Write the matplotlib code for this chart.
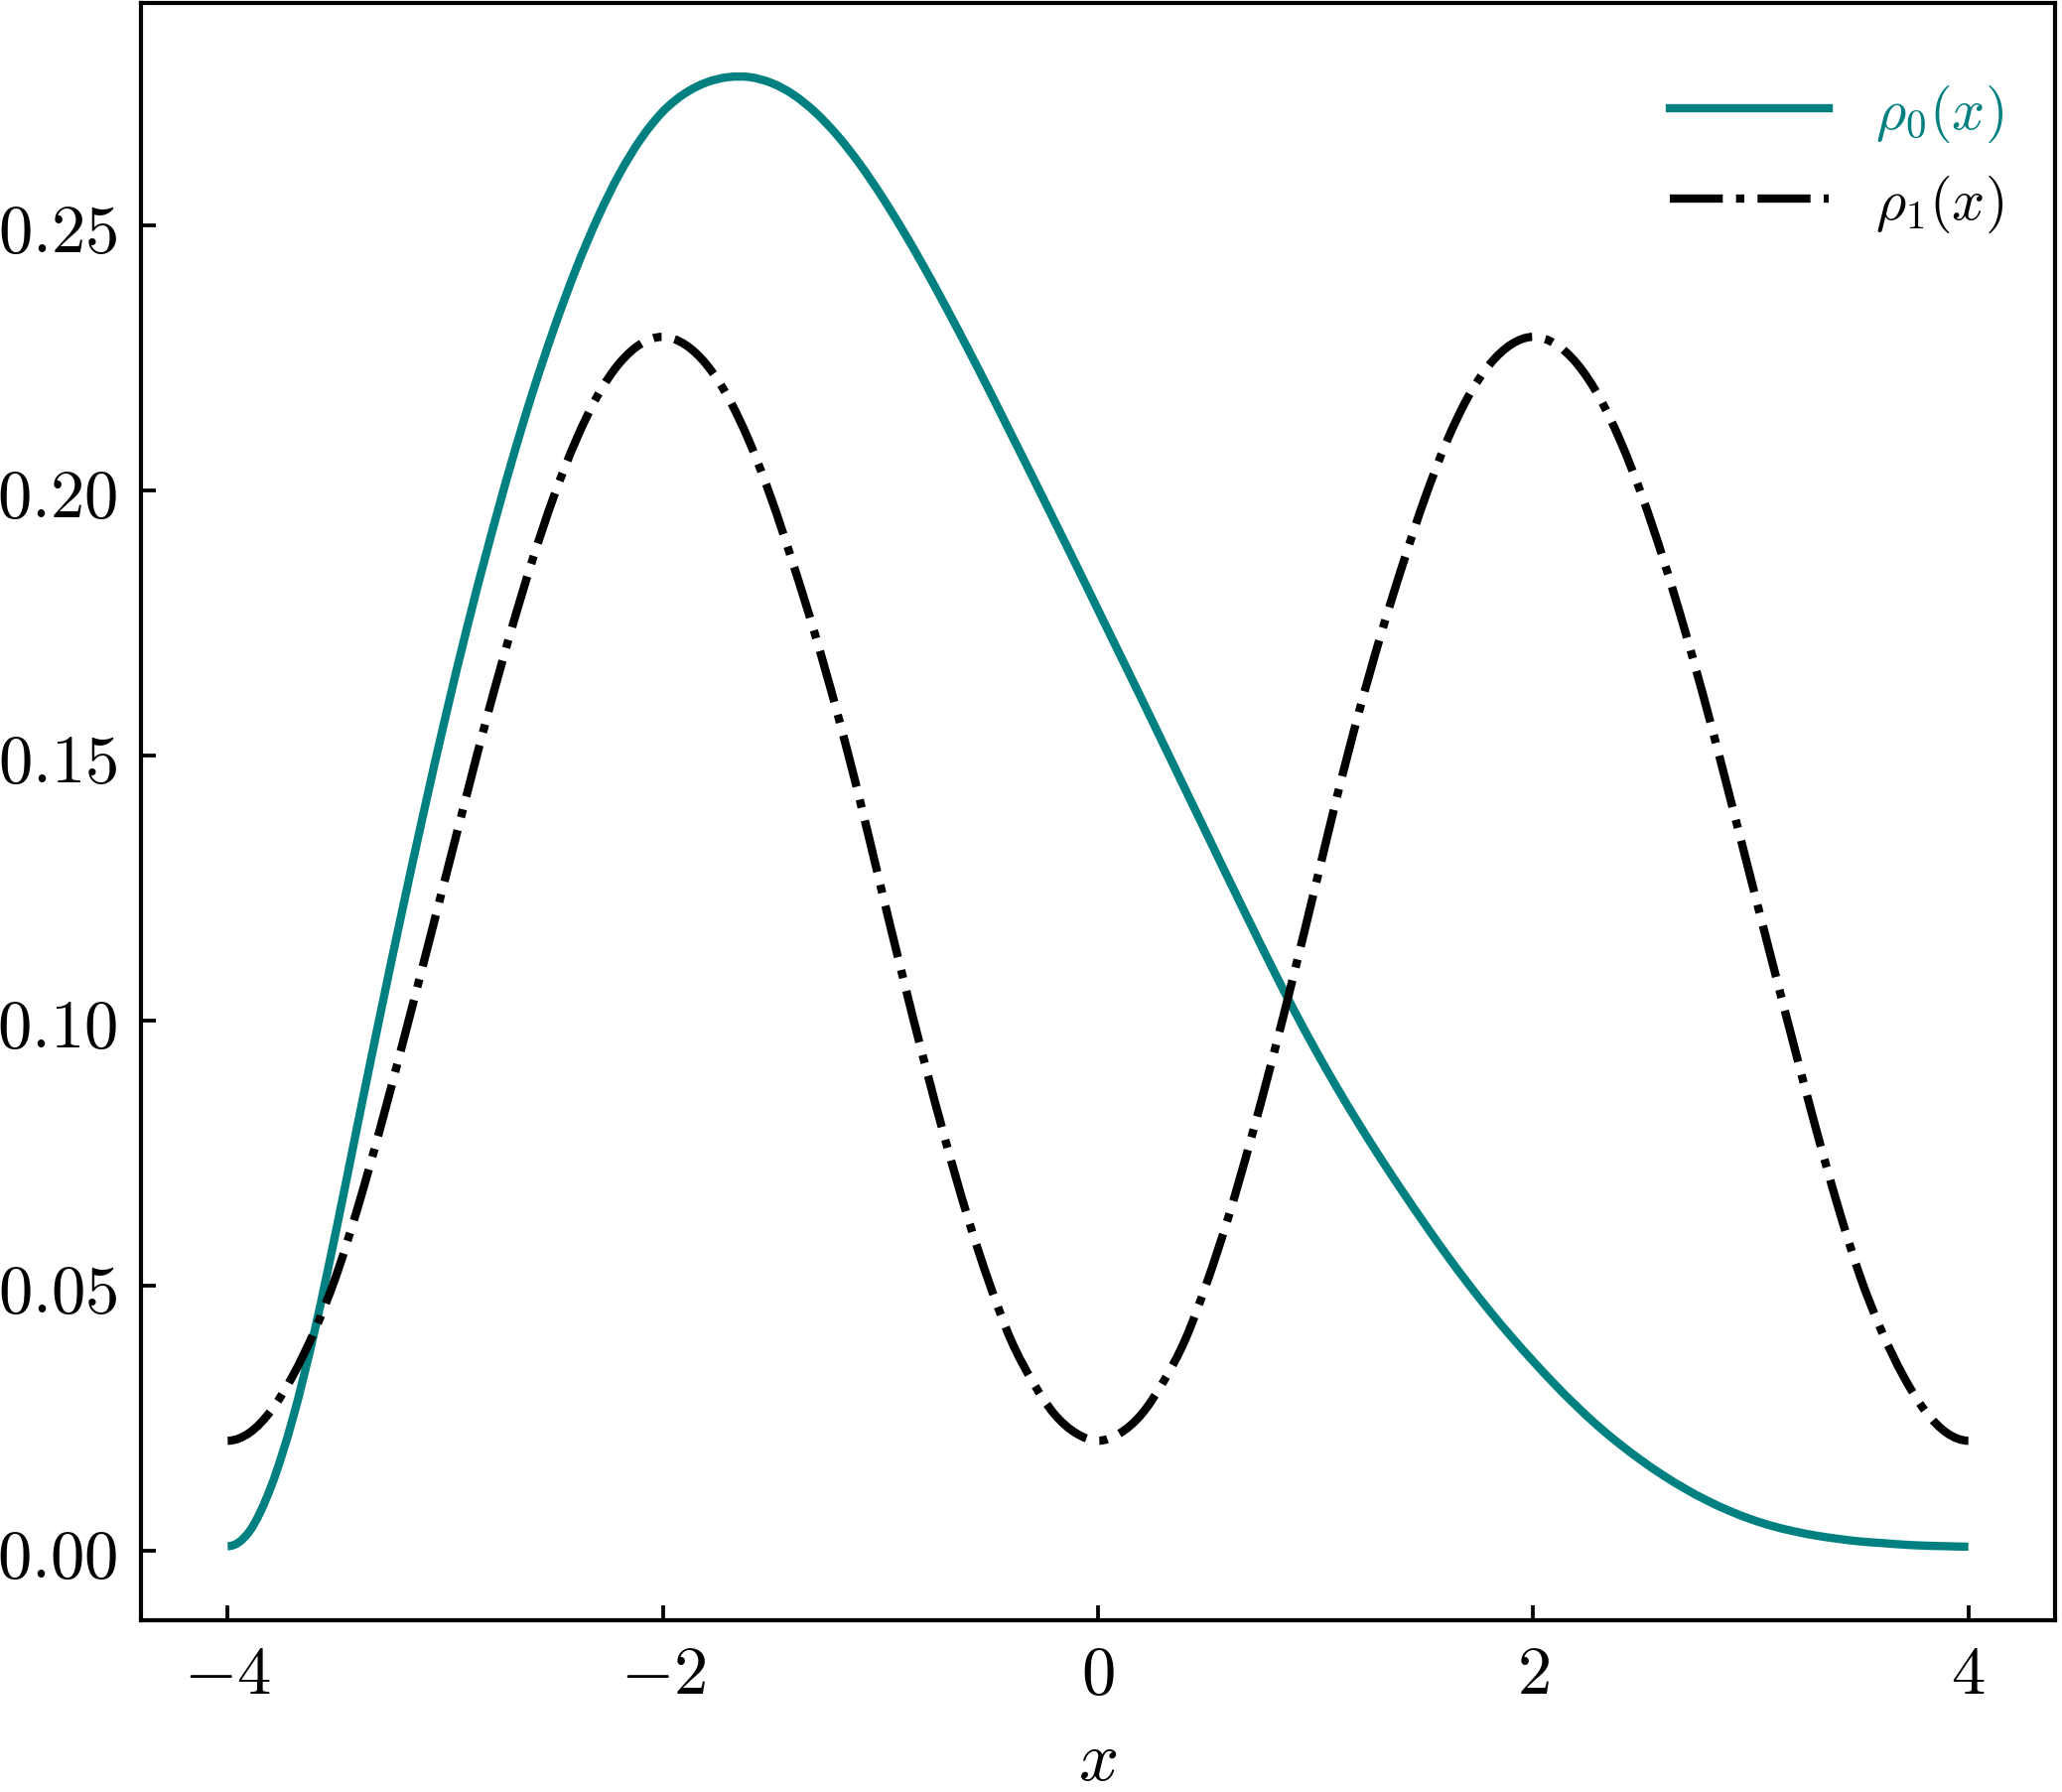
import numpy as np
import matplotlib
matplotlib.use("Agg")
import matplotlib.pyplot as plt
from matplotlib.ticker import FuncFormatter, MultipleLocator
from matplotlib.path import Path
from matplotlib.patches import PathPatch
from matplotlib.lines import Line2D

plt.rcParams['mathtext.fontset'] = 'cm'
plt.rcParams['font.family'] = 'serif'
plt.rcParams['font.serif'] = ['DejaVu Serif']

# grid of x positions (step 0.1 from -4 to 4)
x_vals = np.round(np.arange(-40, 41) / 10.0, 1)

rho0 = [0.0008, 0.0036, 0.0121, 0.0250, 0.0415, 0.0607, 0.0809, 0.1009, 0.1203, 0.1391,
        0.1571, 0.1741, 0.1899, 0.2047, 0.2183, 0.2306, 0.2417, 0.2514, 0.2597, 0.2664,
        0.2715, 0.2749, 0.2770, 0.2780, 0.2780, 0.2769, 0.2747, 0.2714, 0.2671, 0.2619,
        0.2559, 0.2493, 0.2422, 0.2347, 0.2269, 0.2189, 0.2107, 0.2025, 0.1942, 0.1859,
        0.1775,
        0.1691, 0.1607, 0.1522, 0.1437, 0.1352, 0.1267, 0.1183, 0.1100, 0.1020, 0.0944,
        0.0872, 0.0804, 0.0739, 0.0677, 0.0617, 0.0559, 0.0504, 0.0452, 0.0403, 0.0357,
        0.0313, 0.0272, 0.0234, 0.0200, 0.0169, 0.0141, 0.0116, 0.0094, 0.0075, 0.0059,
        0.0046, 0.0036, 0.0028, 0.0022, 0.0017, 0.0014, 0.0011, 0.0009, 0.0008, 0.0007]

rho1 = [0.0207, 0.0222, 0.0264, 0.0330, 0.0415, 0.0520, 0.0650, 0.0795, 0.0950, 0.1108,
        0.1268, 0.1428, 0.1585, 0.1732, 0.1868, 0.1990, 0.2094, 0.2179, 0.2240, 0.2277,
        0.2290, 0.2276, 0.2238, 0.2176, 0.2090, 0.1983, 0.1860, 0.1728, 0.1583, 0.1425,
        0.1255, 0.1087, 0.0925, 0.0772, 0.0630, 0.0505, 0.0397, 0.0318, 0.0257, 0.0221,
        0.0207,
        0.0221, 0.0257, 0.0318, 0.0397, 0.0505, 0.0630, 0.0772, 0.0925, 0.1087, 0.1255,
        0.1425, 0.1583, 0.1728, 0.1860, 0.1983, 0.2090, 0.2176, 0.2238, 0.2276, 0.2290,
        0.2277, 0.2240, 0.2179, 0.2094, 0.1990, 0.1868, 0.1732, 0.1585, 0.1428, 0.1268,
        0.1108, 0.0950, 0.0795, 0.0650, 0.0520, 0.0415, 0.0330, 0.0264, 0.0222, 0.0207]

labels = [r'$\rho_0(x)$', r'$\rho_1(x)$']
teal = '#008080'


def smooth_path(xs, ys):
    """Smooth curve through the data points (Catmull-Rom rendered as cubic Bezier)."""
    P = np.column_stack([np.asarray(xs, float), np.asarray(ys, float)])
    first = np.array([2 * P[0, 0] - P[1, 0], P[1, 1]])
    last = np.array([2 * P[-1, 0] - P[-2, 0], P[-2, 1]])
    Q = np.vstack([first, P, last])
    verts = [P[0]]
    codes = [Path.MOVETO]
    for i in range(len(P) - 1):
        p0, p1, p2, p3 = Q[i], Q[i + 1], Q[i + 2], Q[i + 3]
        c1 = p1 + (p2 - p0) / 6.0
        c2 = p2 - (p3 - p1) / 6.0
        verts += [c1, c2, p2]
        codes += [Path.CURVE4] * 3
    return Path(verts, codes)


fig = plt.figure(figsize=(2077 / 300, 1806 / 300), dpi=300)
ax = fig.add_axes([0.0682, 0.0958, 0.9286, 0.9020])

ax.add_patch(PathPatch(smooth_path(x_vals, rho0), fill=False, edgecolor=teal,
                       lw=2.0, ls='-', capstyle='butt'))
ax.add_patch(PathPatch(smooth_path(x_vals, rho1), fill=False, edgecolor='black',
                       lw=2.0, ls='-.', capstyle='butt'))
ax.autoscale_view()

ax.xaxis.set_major_locator(MultipleLocator(2))
ax.yaxis.set_major_locator(MultipleLocator(0.05))
ax.xaxis.set_major_formatter(FuncFormatter(lambda v, p: r'$%d$' % int(round(v))))
ax.yaxis.set_major_formatter(FuncFormatter(lambda v, p: r'$%.2f$' % v))
ax.tick_params(axis='both', which='major', direction='in', length=3.5, width=0.9,
               labelsize=16.5, top=False, right=False)
ax.tick_params(axis='y', pad=5.5)
ax.tick_params(axis='x', pad=5.0)
for s in ax.spines.values():
    s.set_linewidth(1.0)

ax.set_xlabel(r'$x$', fontsize=17, labelpad=4.5)

handles = [Line2D([], [], color=teal, lw=2.0, ls='-'),
           Line2D([], [], color='black', lw=2.0, ls='-.')]
leg = ax.legend(handles, labels, loc='upper right', bbox_to_anchor=(1.0, 0.983),
                frameon=False, fontsize=14, handlelength=2.75, handletextpad=0.8)
leg.get_texts()[0].set_color(teal)

fig.savefig('out.png', dpi=300)
